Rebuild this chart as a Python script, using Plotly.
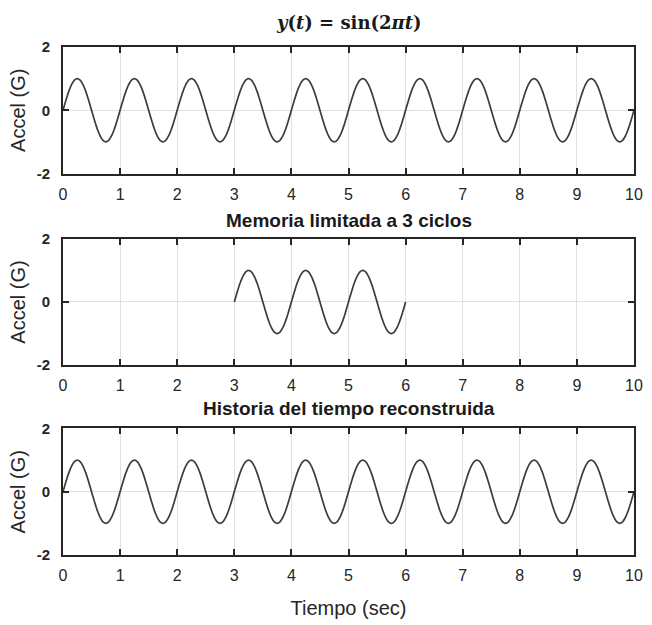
import plotly.graph_objects as go

# One cycle of the sine (offsets within a 1 s period, amplitude in G)
cycle_dt = [0.00, 0.05, 0.10, 0.15, 0.20, 0.25, 0.30, 0.35, 0.40, 0.45,
            0.50, 0.55, 0.60, 0.65, 0.70, 0.75, 0.80, 0.85, 0.90, 0.95]
cycle_y = [0.00, 0.31, 0.59, 0.81, 0.95, 1.00, 0.95, 0.81, 0.59, 0.31,
           0.00, -0.31, -0.59, -0.81, -0.95, -1.00, -0.95, -0.81, -0.59, -0.31]

full_cycles = [0, 1, 2, 3, 4, 5, 6, 7, 8, 9]      # original & reconstructed signal
memory_cycles = [3, 4, 5]                          # limited memory: 3 cycles

def build(cycles):
    t, y = [], []
    for c in cycles:
        for dt, v in zip(cycle_dt, cycle_y):
            t.append(c + dt)
            y.append(v)
    t.append(cycles[-1] + 1)
    y.append(0.0)
    return t, y

t_full, y_full = build(full_cycles)
t_mem, y_mem = build(memory_cycles)
t_rec, y_rec = build(full_cycles)

x_ticks = [0, 1, 2, 3, 4, 5, 6, 7, 8, 9, 10]
x_ticktext = ["0", "1", "2", "3", "4", "5", "6", "7", "8", "9", "10"]
y_ticks = [-2, 0, 2]
y_ticktext = ["-2", "0", "2"]

titles = ["Memoria limitada a 3 ciclos", "Historia del tiempo reconstruida"]

LINE = "#3c3c3c"
AX = "#262626"
FONT = "Liberation Sans, Arial, sans-serif"

fig = go.Figure()
series = [(t_full, y_full), (t_mem, y_mem), (t_rec, y_rec)]
for i, (t, y) in enumerate(series):
    sfx = "" if i == 0 else str(i + 1)
    fig.add_trace(go.Scatter(x=t, y=y, mode="lines", line=dict(color=LINE, width=1.7, shape="spline"),
                             xaxis="x" + sfx, yaxis="y" + sfx, showlegend=False, hoverinfo="skip"))

TOP, BOT = 47, 561
H = BOT - TOP
def frac(p):
    return (BOT - p) / H

axes_px = [(47, 175), (241, 369), (433, 561)]
domains = [[frac(b), frac(t)] for t, b in axes_px]

layout = dict(
    width=652, height=625,
    margin=dict(l=63, r=9, t=TOP, b=625 - BOT),
    paper_bgcolor="white", plot_bgcolor="white",
    font=dict(family=FONT, color=AX, size=16),
    showlegend=False,
)
for i in range(3):
    sfx = "" if i == 0 else str(i + 1)
    xa = dict(domain=[0, 1], range=[0, 10], tickvals=x_ticks, ticktext=x_ticktext,
              ticks="inside", ticklen=6, tickwidth=1.5,
              tickcolor=AX, showline=True, linecolor=AX, linewidth=1.8, mirror="ticks",
              showgrid=True, gridcolor="#e0e0e0", gridwidth=1, zeroline=False,
              anchor="y" + sfx, tickfont=dict(size=16, color=AX), ticklabelstandoff=5)
    ya = dict(domain=domains[i], range=[-2, 2], tickvals=y_ticks, ticktext=y_ticktext,
              ticks="inside", ticklen=6, tickwidth=1.5,
              tickcolor=AX, showline=True, linecolor=AX, linewidth=1.8, mirror="ticks",
              showgrid=True, gridcolor="#e0e0e0", gridwidth=1, zeroline=False,
              anchor="x" + sfx, tickfont=dict(size=15, color=AX, weight="bold"), ticklabelstandoff=8,
              title=dict(text="Accel (G)", font=dict(size=20, color=AX), standoff=6))
    if i == 2:
        xa["title"] = dict(text="Tiempo (sec)", font=dict(size=20, color=AX), standoff=18)
    layout["xaxis" + sfx] = xa
    layout["yaxis" + sfx] = ya

annotations = [
    dict(text="<b><i>y</i>(<i>t</i>) = sin(2<i>πt</i>)</b>", x=0.5, y=frac(22), xref="paper", yref="paper",
         yanchor="middle", showarrow=False,
         font=dict(family="DejaVu Serif, Liberation Serif, serif", size=18, color="#1a1a1a")),
]
title_y_px = [223, 413]
for txt, py in zip(titles, title_y_px):
    annotations.append(dict(text=txt, x=0.5, y=frac(py), xref="paper", yref="paper", yanchor="middle",
                            showarrow=False, font=dict(family=FONT, size=19, color="#1a1a1a", weight="bold")))
layout["annotations"] = annotations

fig.update_layout(**layout)
fig.write_html("out.html")
